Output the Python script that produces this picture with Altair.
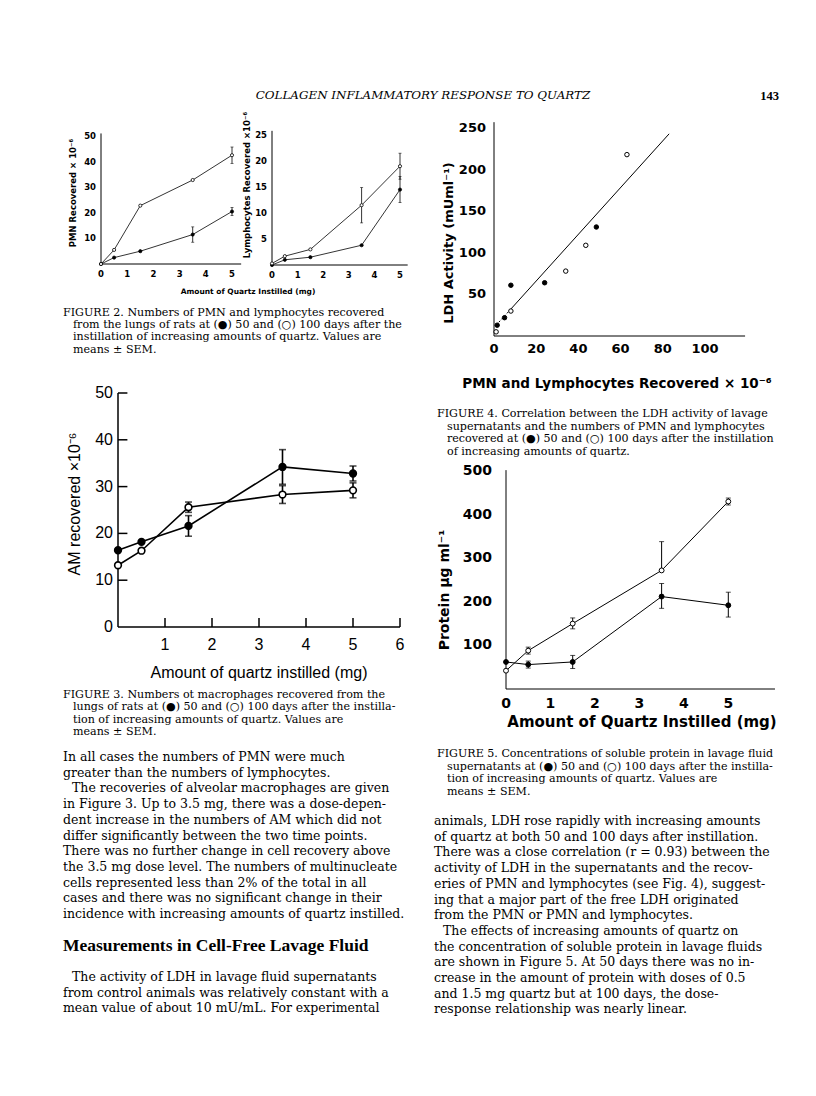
import altair as alt
import pandas as pd

OX, OY = 8, 8          # page margin
W, H = 800, 1080       # drawing area

def px(x):
    return x - OX

def py(y):
    return y - OY

BLACK = "black"

# ------------------------------------------------------------------ data
dose = [0, 0.5, 1.5, 3.5, 5]

# Figure 2 (PMN and lymphocytes x 10^-6)
pmn_50 = [0, 2.5, 5.0, 11.5, 20.5]
pmn_50_sem = [0, 0, 0, 3.0, 1.6]
pmn_100 = [0, 5.5, 22.8, 32.8, 42.5]
pmn_100_sem = [0, 0, 0, 0, 3.2]
lym_50 = [0, 1.0, 1.5, 3.8, 14.5]
lym_50_sem = [0, 0, 0, 0, 2.5]
lym_100 = [0.3, 1.7, 3.0, 11.5, 19.0]
lym_100_sem = [0, 0, 0, 3.4, 2.5]

# Figure 3 (AM recovered x 10^-6)
am_50 = [16.4, 18.2, 21.6, 34.2, 32.8]
am_50_sem = [0, 0, 2.2, 3.7, 1.6]
am_100 = [13.2, 16.3, 25.6, 28.3, 29.2]
am_100_sem = [0, 0, 1.1, 1.9, 1.6]

# Figure 4 (LDH vs PMN + lymphocytes)
cells_50 = [1.5, 5, 8, 24, 48.5]
ldh_50 = [13, 22, 61, 64, 131]
cells_100 = [1, 8, 34, 43.5, 63]
ldh_100 = [5, 30, 78, 109, 218]
fit_dot_x = [1, 7.5]
fit_dot_y = [13, 31]
fit_x = [7.5, 83]
fit_y = [31, 243]

# Figure 5 (protein ug/ml)
prot_50 = [62, 56, 62, 212, 192]
prot_50_lo = [62, 48, 47, 185, 165]
prot_50_hi = [62, 64, 77, 242, 222]
prot_100 = [42, 88, 150, 272, 430]
prot_100_lo = [42, 80, 138, 272, 422]
prot_100_hi = [42, 96, 163, 338, 438]

# tick labels
fig2_x_ticks = [0, 1, 2, 3, 4, 5]
fig2a_y_ticks = [10, 20, 30, 40, 50]
fig2b_y_ticks = [5, 10, 15, 20, 25]
fig3_x_ticks = [1, 2, 3, 4, 5, 6]
fig3_y_ticks = [0, 10, 20, 30, 40, 50]
fig3_in_x_ticks = [1, 2, 3, 4, 5, 6]
fig3_in_y_ticks = [10, 20, 30, 40, 50]
fig4_x_ticks = [0, 20, 40, 60, 80, 100]
fig4_y_ticks = [50, 100, 150, 200, 250]
fig5_x_ticks = [0, 1, 2, 3, 4, 5]
fig5_y_ticks = [100, 200, 300, 400, 500]

# texts
header_text = "COLLAGEN INFLAMMATORY RESPONSE TO QUARTZ"
page_number = "143"

fig2_xtitle = "Amount of Quartz Instilled (mg)"
fig2a_ytitle = "PMN Recovered \u00d7 10\u207b\u2076"
fig2b_ytitle = "Lymphocytes Recovered \u00d710\u207b\u2076"
fig3_xtitle = "Amount of quartz  instilled (mg)"
fig3_ytitle = "AM  recovered \u00d710\u207b\u2076"
fig4_xtitle = "PMN and Lymphocytes  Recovered \u00d7 10\u207b\u2076"
fig4_ytitle = "LDH Activity (mUml\u207b\u00b9)"
fig5_xtitle = "Amount of Quartz Instilled (mg)"
fig5_ytitle = "Protein \u00b5g ml\u207b\u00b9"

cap2 = ["FIGURE 2.  Numbers of PMN and lymphocytes recovered",
        "from the lungs of rats at (\u25cf) 50 and (\u25cb) 100 days after the",
        "instillation of increasing amounts of quartz. Values are",
        "means \u00b1 SEM."]
cap3 = ["FIGURE 3.  Numbers ot macrophages recovered from the",
        "lungs of rats at (\u25cf) 50 and (\u25cb) 100 days after the instilla-",
        "tion of increasing amounts of quartz. Values are",
        "means \u00b1 SEM."]
cap4 = ["FIGURE 4.  Correlation between the LDH activity of lavage",
        "supernatants and the numbers of PMN and lymphocytes",
        "recovered at (\u25cf) 50 and (\u25cb) 100 days after the instillation",
        "of increasing amounts of quartz."]
cap5 = ["FIGURE 5.  Concentrations of soluble protein in lavage fluid",
        "supernatants at (\u25cf) 50 and (\u25cb) 100 days after the instilla-",
        "tion of increasing amounts of quartz. Values are",
        "means \u00b1 SEM."]
cap_indent = [0, 1, 1, 1]

left_text_a = ["In all cases the numbers of PMN were much",
               "greater than the numbers of lymphocytes.",
               "The recoveries of alveolar macrophages are given",
               "in Figure 3. Up to 3.5 mg, there was a dose-depen-",
               "dent increase in the numbers of AM which did not",
               "differ significantly between the two time points.",
               "There was no further change in cell recovery above",
               "the 3.5 mg dose level. The numbers of multinucleate",
               "cells represented less than 2% of the total in all",
               "cases and there was no significant change in their",
               "incidence with increasing amounts of quartz instilled."]
left_text_a_indent = [0, 0, 1, 0, 0, 0, 0, 0, 0, 0, 0]
heading_text = "Measurements in Cell-Free Lavage Fluid"
left_text_b = ["The activity of LDH in lavage fluid supernatants",
               "from control animals was relatively constant with a",
               "mean value of about 10 mU/mL. For experimental"]
left_text_b_indent = [1, 0, 0]
right_text = ["animals, LDH rose rapidly with increasing amounts",
              "of quartz at both 50 and 100 days after instillation.",
              "There was a close correlation (r = 0.93) between the",
              "activity of LDH in the supernatants and the recov-",
              "eries of PMN and lymphocytes (see Fig. 4), suggest-",
              "ing that a major part of the free LDH originated",
              "from the PMN or PMN and lymphocytes.",
              "The effects of increasing amounts of quartz on",
              "the concentration of soluble protein in lavage fluids",
              "are shown in Figure 5. At 50 days there was no in-",
              "crease in the amount of protein with doses of 0.5",
              "and 1.5 mg quartz but at 100 days, the dose-",
              "response relationship was nearly linear."]
right_text_indent = [0, 0, 0, 0, 0, 0, 0, 1, 0, 0, 0, 0, 0]

# ------------------------------------------------------------------ helpers
FILL = alt.Scale(domain=["50", "100"], range=["black", "white"])
BOLD_SANS = "DejaVu Sans"
FIG3_FONT = "Liberation Sans"
SERIF = "DejaVu Serif"


def sem_df(xs, series):
    rows = []
    for grp, ys, sems in series:
        for x, y, s in zip(xs, ys, sems):
            rows.append({"x": x, "y": y, "lo": y - s, "hi": y + s, "grp": grp})
    return pd.DataFrame(rows)


def range_df(xs, series):
    rows = []
    for grp, ys, los, his in series:
        for x, y, lo, hi in zip(xs, ys, los, his):
            rows.append({"x": x, "y": y, "lo": lo, "hi": hi, "grp": grp})
    return pd.DataFrame(rows)


def lin(d1, p0, per_unit, vertical=False):
    """linear scale from 0..d1 onto pixels starting at p0 (page coords)"""
    if vertical:
        rng = [py(p0), py(p0 - d1 * per_unit)]
    else:
        rng = [px(p0), px(p0 + d1 * per_unit)]
    return alt.Scale(domain=[0, d1], range=rng, nice=False, zero=False)


def axes(xsc, ysc, xmax, ymax, xticks, yticks, font, size, weight, xdy, ydx, dw):
    one = pd.DataFrame({"k": [0]})
    dom_x = alt.Chart(one).mark_rule(color=BLACK, strokeWidth=dw).encode(
        x=alt.X(datum=0, scale=xsc, axis=None), x2=alt.X2(datum=xmax),
        y=alt.Y(datum=0, scale=ysc, axis=None))
    dom_y = alt.Chart(one).mark_rule(color=BLACK, strokeWidth=dw).encode(
        y=alt.Y(datum=0, scale=ysc, axis=None), y2=alt.Y2(datum=ymax),
        x=alt.X(datum=0, scale=xsc, axis=None))
    lab_x = alt.Chart(pd.DataFrame({"t": xticks})).mark_text(
        align="center", baseline="middle", dy=xdy, font=font, fontSize=size,
        fontWeight=weight, color=BLACK).encode(
        x=alt.X("t:Q", scale=xsc, axis=None), y=alt.Y(datum=0, scale=ysc, axis=None),
        text=alt.Text("t:Q", format="d"))
    lab_y = alt.Chart(pd.DataFrame({"t": yticks})).mark_text(
        align="right", baseline="middle", dx=-ydx, font=font, fontSize=size,
        fontWeight=weight, color=BLACK).encode(
        y=alt.Y("t:Q", scale=ysc, axis=None), x=alt.X(datum=0, scale=xsc, axis=None),
        text=alt.Text("t:Q", format="d"))
    return [dom_x, dom_y, lab_x, lab_y]


def panel(df, xsc, ysc, axis_layers, lw, psize, psw, cap=0, connect=True, extra=()):
    base = alt.Chart(df)
    X = alt.X("x:Q", scale=xsc, axis=None)
    Y = alt.Y("y:Q", scale=ysc, axis=None)
    layers = list(axis_layers)
    layers.extend(extra)
    if connect:
        layers.append(base.mark_line(color=BLACK, strokeWidth=lw).encode(
            x=X, y=Y, detail="grp:N", order="x:Q"))
    eb = base.transform_filter("datum.hi > datum.lo")
    layers.append(eb.mark_rule(color=BLACK, strokeWidth=lw).encode(
        x=X, y=alt.Y("lo:Q", scale=ysc, axis=None), y2="hi:Q"))
    if cap:
        layers.append(eb.transform_fold(["lo", "hi"], as_=["end", "val"]).mark_tick(
            orient="horizontal", size=cap, thickness=lw, color=BLACK).encode(
            x=X, y=alt.Y("val:Q", scale=ysc, axis=None)))
    layers.append(base.mark_point(shape="circle", filled=True, size=psize, stroke=BLACK,
                                  strokeWidth=psw, opacity=1).encode(
        x=X, y=Y, fill=alt.Fill("grp:N", scale=FILL, legend=None)))
    return alt.layer(*layers)


def text_block(lines, indents, x0, indent_px, y0, dy, font, size, weight="normal", style="normal"):
    n = len(lines)
    m = max(n - 1, 1)
    df = pd.DataFrame({"line": list(range(n)), "txt": lines, "ind": indents})
    return alt.Chart(df).mark_text(align="left", baseline="middle", font=font, fontSize=size,
                                   fontWeight=weight, fontStyle=style, color=BLACK).encode(
        x=alt.X("ind:Q", scale=alt.Scale(domain=[0, 1], range=[px(x0), px(x0 + indent_px)],
                                         nice=False, zero=False), axis=None),
        y=alt.Y("line:Q", scale=alt.Scale(domain=[0, m], range=[py(y0), py(y0 + dy * m)],
                                          nice=False, zero=False), axis=None),
        text="txt:N")


def single_text(txt, x, y, font, size, weight="normal", style="normal", align="left", angle=0):
    return alt.Chart(pd.DataFrame({"t": [txt]})).mark_text(
        align=align, baseline="middle", font=font, fontSize=size, fontWeight=weight,
        fontStyle=style, color=BLACK, angle=angle).encode(
        x=alt.value(px(x)), y=alt.value(py(y)), text="t:N")


# ------------------------------------------------------------------ Figure 2
f2a_x = lin(5.35, 101, 26.2)
f2a_y = lin(51, 264, 2.56, vertical=True)
fig2a = panel(
    sem_df(dose, [("50", pmn_50, pmn_50_sem), ("100", pmn_100, pmn_100_sem)]),
    f2a_x, f2a_y,
    axes(f2a_x, f2a_y, 5.35, 51, fig2_x_ticks, fig2a_y_ticks, BOLD_SANS, 8.5, "bold", 10, 5, 1),
    0.8, 10, 0.8, cap=3)

f2b_x = lin(5.3, 272, 25.6)
f2b_y = lin(25.8, 265, 5.2, vertical=True)
fig2b = panel(
    sem_df(dose, [("50", lym_50, lym_50_sem), ("100", lym_100, lym_100_sem)]),
    f2b_x, f2b_y,
    axes(f2b_x, f2b_y, 5.3, 25.8, fig2_x_ticks, fig2b_y_ticks, BOLD_SANS, 8.5, "bold", 10, 5, 1),
    0.8, 10, 0.8, cap=3)

# ------------------------------------------------------------------ Figure 3
TICK_X_LEN = 1.9   # inward tick length (y units)
TICK_Y_LEN = 0.2   # inward tick length (x units)
f3_x = lin(6, 118, 47)
f3_y = lin(50, 627, 4.68, vertical=True)
f3_xt = alt.Chart(pd.DataFrame({"t": fig3_in_x_ticks})).mark_rule(color=BLACK, strokeWidth=1.5).encode(
    x=alt.X("t:Q", scale=f3_x, axis=None), y=alt.Y(datum=0, scale=f3_y, axis=None),
    y2=alt.Y2(datum=TICK_X_LEN))
f3_yt = alt.Chart(pd.DataFrame({"t": fig3_in_y_ticks})).mark_rule(color=BLACK, strokeWidth=1.5).encode(
    y=alt.Y("t:Q", scale=f3_y, axis=None), x=alt.X(datum=0, scale=f3_x, axis=None),
    x2=alt.X2(datum=TICK_Y_LEN))
fig3 = panel(
    sem_df(dose, [("50", am_50, am_50_sem), ("100", am_100, am_100_sem)]),
    f3_x, f3_y,
    axes(f3_x, f3_y, 6, 50, fig3_x_ticks, fig3_y_ticks, FIG3_FONT, 16, "normal", 18, 5, 1.5),
    1.6, 45, 1.6, cap=7, extra=(f3_xt, f3_yt))

# ------------------------------------------------------------------ Figure 4
f4_x = lin(119, 494, 2.11)
f4_y = lin(257, 336, 0.832, vertical=True)
fit_solid = alt.Chart(pd.DataFrame({"x": fit_x, "y": fit_y})).mark_line(
    color=BLACK, strokeWidth=1).encode(x=alt.X("x:Q", scale=f4_x, axis=None),
                                       y=alt.Y("y:Q", scale=f4_y, axis=None))
fit_dots = alt.Chart(pd.DataFrame({"x": fit_dot_x, "y": fit_dot_y})).mark_line(
    color=BLACK, strokeWidth=1, strokeDash=[2, 2]).encode(
    x=alt.X("x:Q", scale=f4_x, axis=None), y=alt.Y("y:Q", scale=f4_y, axis=None))
f4_df = pd.concat([
    pd.DataFrame({"x": cells_50, "y": ldh_50, "lo": ldh_50, "hi": ldh_50, "grp": "50"}),
    pd.DataFrame({"x": cells_100, "y": ldh_100, "lo": ldh_100, "hi": ldh_100, "grp": "100"})])
fig4 = panel(
    f4_df, f4_x, f4_y,
    axes(f4_x, f4_y, 119, 257, fig4_x_ticks, fig4_y_ticks, BOLD_SANS, 13, "bold", 13, 8, 1),
    1, 20, 1, cap=0, connect=False, extra=(fit_solid, fit_dots))

# ------------------------------------------------------------------ Figure 5
f5_x = lin(6.05, 506, 44.46)
f5_y = lin(502, 689, 0.436, vertical=True)
fig5 = panel(
    range_df(dose, [("50", prot_50, prot_50_lo, prot_50_hi),
                    ("100", prot_100, prot_100_lo, prot_100_hi)]),
    f5_x, f5_y,
    axes(f5_x, f5_y, 6.05, 502, fig5_x_ticks, fig5_y_ticks, BOLD_SANS, 14, "bold", 15, 14, 1),
    1, 24, 1, cap=5)

# ------------------------------------------------------------------ text
CAP_SIZE = 11.1
BODY_SIZE = 12.5
texts = [
    single_text(header_text, 423, 95, SERIF, 11.9, style="italic", align="center"),
    single_text(page_number, 779, 96, "Liberation Serif", 12.5, weight="bold", align="right"),
    # axis titles
    single_text(fig2_xtitle, 248, 292, BOLD_SANS, 7.5, weight="bold", align="center"),
    single_text(fig2a_ytitle, 73, 193, BOLD_SANS, 8.5, weight="bold", align="center", angle=270),
    single_text(fig2b_ytitle, 247, 185, BOLD_SANS, 8.5, weight="bold", align="center", angle=270),
    single_text(fig3_xtitle, 259, 673, FIG3_FONT, 16, align="center"),
    single_text(fig3_ytitle, 75, 504, FIG3_FONT, 16, align="center", angle=270),
    single_text(fig4_xtitle, 617, 384, BOLD_SANS, 13.5, weight="bold", align="center"),
    single_text(fig4_ytitle, 449, 243, BOLD_SANS, 13, weight="bold", align="center", angle=270),
    single_text(fig5_xtitle, 642, 722, BOLD_SANS, 15, weight="bold", align="center"),
    single_text(fig5_ytitle, 445, 590, BOLD_SANS, 14, weight="bold", align="center", angle=270),
    # captions
    text_block(cap2, cap_indent, 63, 10, 312.5, 12.4, SERIF, CAP_SIZE),
    text_block(cap3, cap_indent, 63, 10, 695, 12.3, SERIF, CAP_SIZE),
    text_block(cap4, cap_indent, 437, 10, 414, 12.5, SERIF, CAP_SIZE),
    text_block(cap5, cap_indent, 437, 10, 754, 12.6, SERIF, CAP_SIZE),
    # body
    text_block(left_text_a, left_text_a_indent, 63, 9, 757, 15.7, SERIF, BODY_SIZE),
    single_text(heading_text, 63, 946, "Liberation Serif", 17.5, weight="bold"),
    text_block(left_text_b, left_text_b_indent, 63, 9, 977, 15.6, SERIF, BODY_SIZE),
    text_block(right_text, right_text_indent, 434, 9, 821, 15.7, SERIF, BODY_SIZE),
]

chart = alt.layer(fig2a, fig2b, fig3, fig4, fig5, *texts).resolve_scale(
    x="independent", y="independent"
).properties(
    width=W, height=H, padding=0, autosize=alt.AutoSizeParams(type="none"),
    background="white"
).configure_view(stroke=None)

chart.save("out.html", embed_options={"renderer": "svg", "actions": False})
